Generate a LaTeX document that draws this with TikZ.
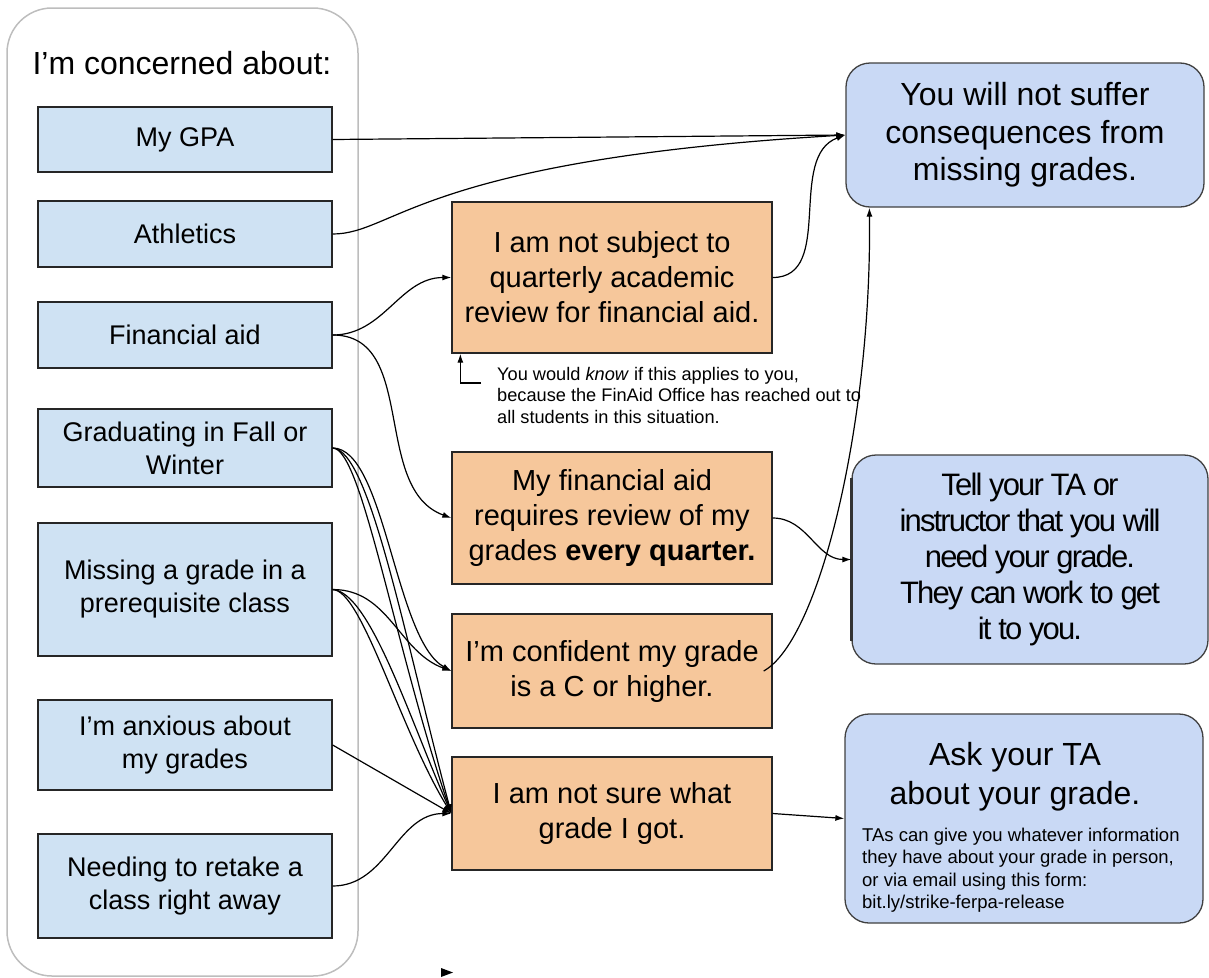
\documentclass[tikz,border=0pt]{standalone}
\usepackage{fontspec}
\setmainfont{Liberation Sans}
\newfontfamily\tightsans[LetterSpace=-6]{Liberation Sans}
\usetikzlibrary{arrows.meta}
\definecolor{concernblue}{HTML}{CFE2F3}
\definecolor{choiceorange}{HTML}{F6C79B}
\definecolor{outcomeblue}{HTML}{C9D9F5}
\definecolor{panelgray}{HTML}{BDBDBD}
\newcommand{\bigtext}{\fontsize{32}{37.5}\selectfont}

\begin{document}
\begin{tikzpicture}[x=1pt,y=-1pt,
  concern/.style={draw=black!85,line width=1.3pt,fill=concernblue,minimum width=294pt,
    align=center,inner sep=0pt,font=\fontsize{27}{33}\selectfont},
  choice/.style={draw=black!85,line width=1.3pt,fill=choiceorange,minimum width=320pt,
    align=center,inner sep=0pt,font=\fontsize{29}{35}\selectfont},
  outcome/.style={draw=black!75,line width=1.3pt,fill=outcomeblue,rounded corners=24pt,
    align=center,inner sep=0pt},
  link/.style={line width=1.2pt,-{Latex[length=9pt,width=6pt]}}]
  \useasboundingbox (0,0) rectangle (1209,977);

  %left column
  \node[draw=panelgray,line width=1.5pt,rounded corners=45pt,minimum width=351pt,
    minimum height=968pt,inner sep=0pt] (panel) at (182.5,492) {};
  \node[font=\bigtext] (title) at (182,63) {I’m concerned about:};
  \node[concern,minimum height=65pt] (gpa) at (185,139.5) {My GPA};
  \node[concern,minimum height=66pt] (ath) at (185,234) {Athletics};
  \node[concern,minimum height=66pt] (fin) at (185,335) {Financial aid};
  \node[concern,minimum height=78pt] (grad) at (185,448) {Graduating in Fall or\\Winter};
  \node[concern,minimum height=133pt] (miss) at (185,589.5) {Missing a grade in a\\prerequisite class};
  \node[concern,minimum height=90pt] (anx) at (185,745) {I’m anxious about\\my grades};
  \node[concern,minimum height=104pt] (need) at (185,886) {Needing to retake a\\class right away};

  %middle column
  \node[choice,minimum height=151pt] (nsub) at (612,277.5) {I am not subject to\\quarterly academic\\review for financial aid.};
  \node[choice,minimum height=132pt] (mfa) at (612,518) {My financial aid\\requires review of my\\grades \textbf{every quarter.}};
  \node[choice,minimum height=114pt] (conf) at (612,671) {I’m confident my grade\\is a C or higher.};
  \node[choice,minimum height=113pt] (nsure) at (612,813.5) {I am not sure what\\grade I got.};

  %note under the first choice
  \node[anchor=west,align=left,inner sep=0pt,font=\fontsize{18.2}{21.5}\selectfont] (note) at (497,395)
    {You would \textit{know} if this applies to you,\\because the FinAid Office has reached out to\\all students in this situation.};
  \coordinate (elbow) at (481,383);

  %right column
  \node[outcome,minimum width=358pt,minimum height=144pt,font=\bigtext] (suffer) at (1025,135)
    {You will not suffer\\consequences from\\missing grades.};
  \node[outcome,minimum width=356pt,minimum height=209pt,font=\tightsans\fontsize{31}{36}\selectfont] (tell) at (1030,559.5)
    {Tell your TA or\\instructor that you will\\need your grade.\\They can work to get\\it to you.};
  \draw[black!80,line width=3pt] ([yshift=-24pt]tell.north west) -- ([yshift=24pt]tell.south west);
  \node[outcome,minimum width=358pt,minimum height=209pt] (ask) at (1024,818.5) {};
  \node[align=center,inner sep=0pt,font=\fontsize{32}{39}\selectfont] (asktitle) at (1015,777) {Ask your TA\\about your grade.};
  \node[anchor=west,align=left,inner sep=0pt,font=\fontsize{18.5}{22.5}\selectfont] (askinfo) at (862,870)
    {TAs can give you whatever information\\they have about your grade in person,\\or via email using this form:\\bit.ly/strike-ferpa-release};

  %connectors
  \draw[link] (gpa.east) -- (suffer.west);
  \draw[link] (ath.east) .. controls (395,234) and (420,160) .. (suffer.west);
  \draw[link] (fin.east) to[out=0,in=180] (nsub.west);
  \draw[link] (fin.east) to[out=0,in=160] (mfa.west);
  \draw[link] (nsub.east) to[out=0,in=200] (suffer.west);
  \draw[link] ([xshift=-9pt]conf.east) .. controls (820,640) and (872,420) .. ([xshift=24pt]suffer.south west);
  \draw[link] (mfa.east) to[out=0,in=180] (tell.west);
  \draw[link] (elbow) -| ([xshift=9pt]nsub.south west);
  \draw[link] (grad.east) .. controls (385,448) and (395,640) .. (conf.west);
  \draw[link] (grad.east) .. controls (362,448) and (395,650) .. (nsure.west);
  \draw[link] (grad.east) .. controls (370,450) and (405,640) .. (nsure.west);
  \draw[link] (miss.east) to[out=0,in=160] (conf.west);
  \draw[link] (miss.east) .. controls (362,590) and (400,730) .. (nsure.west);
  \draw[link] (miss.east) .. controls (370,592) and (410,720) .. (nsure.west);
  \draw[link] (anx.east) -- (nsure.west);
  \draw[link] (need.east) to[out=0,in=180] (nsure.west);
  \draw[link] (nsure.east) -- (ask.west);

  %stray tip at the bottom
  \fill (441,968) -- (453,972.5) -- (441,977) -- cycle;
\end{tikzpicture}
\end{document}
